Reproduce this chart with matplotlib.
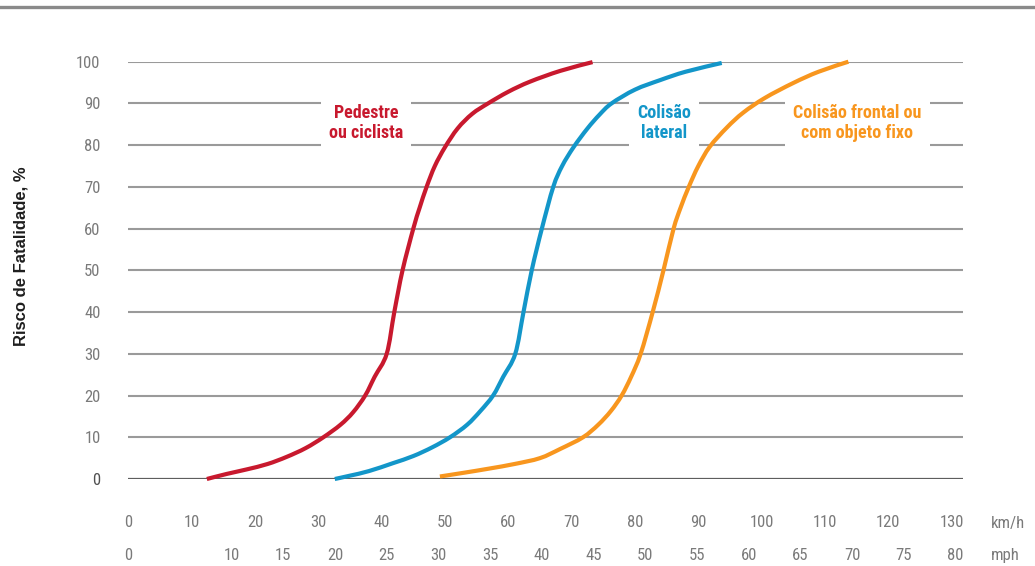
import matplotlib
matplotlib.use("Agg")
import matplotlib.pyplot as plt
from matplotlib import font_manager
from matplotlib.lines import Line2D
from matplotlib.path import Path
from matplotlib.patches import PathPatch
import matplotlib.transforms as mtransforms

# --- data (speed in km/h, fatality risk in %) ---
ped_kmh = [12.4, 15.5, 18.7, 22.0, 25.0, 28.0, 30.8, 33.5, 35.5, 37.4, 38.9,
           40.8, 42.0, 43.3, 45.0, 46.0, 47.1, 48.4, 50.0, 52.0, 54.3, 56.8, 60.0,
           63.4, 68.2, 73.3]
ped_risk = [0.0, 1.2, 2.3, 3.6, 5.3, 7.4, 10.0, 13.0, 16.0, 20.0, 24.5,
            30.0, 40.0, 50.0, 60.0, 65.0, 70.0, 75.0, 79.5, 84.0, 87.5, 90.0, 92.8,
            95.2, 97.8, 99.9]

lat_kmh = [32.6, 35.0, 38.0, 41.8, 45.0, 48.0, 50.8, 53.5, 55.6, 57.6, 59.2,
           61.1, 62.4, 63.7, 65.3, 67.1, 68.5, 70.3, 72.5, 74.4, 76.3, 80.0, 84.0,
           88.0, 93.7]
lat_risk = [0.0, 0.8, 1.9, 3.8, 5.5, 7.6, 10.0, 13.0, 16.3, 20.0, 24.5,
            30.0, 40.0, 50.0, 60.0, 70.0, 75.0, 79.5, 84.0, 87.3, 90.0, 93.3, 95.6,
            97.6, 99.7]

fro_kmh = [49.2, 53.0, 57.0, 61.0, 65.0, 68.2, 71.8, 74.2, 76.2, 77.9, 79.4,
           80.9, 82.8, 84.5, 86.1, 87.2, 88.5, 90.0, 91.8, 94.5, 97.1, 100.5, 105.0,
           109.0, 113.7]
fro_risk = [0.6, 1.5, 2.5, 3.6, 5.0, 7.2, 10.0, 13.0, 16.3, 20.0, 24.5,
            30.0, 40.0, 50.0, 60.0, 65.0, 70.0, 75.0, 79.6, 84.2, 87.8, 91.3, 94.9,
            97.6, 100.0]

y_ticks = [0, 10, 20, 30, 40, 50, 60, 70, 80, 90, 100]
kmh_ticks = [0, 10, 20, 30, 40, 50, 60, 70, 80, 90, 100, 110, 120, 130]
mph_ticks = [0, 10, 15, 20, 25, 30, 35, 40, 45, 50, 55, 60, 65, 70, 75, 80]
KMH_PER_MPH = 1.633  # spacing used by the original graphic

labels = ["Pedestre\nou ciclista", "Colisão\nlateral", "Colisão frontal ou\ncom objeto fixo"]
label_x = [37.5, 84.6, 115.1]
label_y = [85.3, 85.3, 85.3]
colors = ["#c8192e", "#1396c9", "#f8961e"]

# pick a narrow face if one is installed
installed = {f.name for f in font_manager.fontManager.ttflist}
COND = ["DejaVu Sans"]
STRETCH = "normal"
for name in ["Roboto Condensed", "Liberation Sans Narrow", "Open Sans Condensed", "Roboto"]:
    if name in installed:
        COND = [name, "DejaVu Sans"]
        break
if COND[0] == "Roboto":
    if any(f.name == "Roboto" and f.stretch in ("condensed", "semi-condensed")
           for f in font_manager.fontManager.ttflist):
        STRETCH = "condensed"


def smooth_path(xs, ys):
    # cubic bezier segments through the points (catmull-rom tangents)
    pts = list(zip(xs, ys))
    verts = [pts[0]]
    codes = [Path.MOVETO]
    n = len(pts)
    for i in range(n - 1):
        p0 = pts[i - 1] if i > 0 else pts[i]
        p1, p2 = pts[i], pts[i + 1]
        p3 = pts[i + 2] if i + 2 < n else pts[i + 1]
        c1 = (p1[0] + (p2[0] - p0[0]) / 6, p1[1] + (p2[1] - p0[1]) / 6)
        c2 = (p2[0] - (p3[0] - p1[0]) / 6, p2[1] - (p3[1] - p1[1]) / 6)
        verts += [c1, c2, p2]
        codes += [Path.CURVE4] * 3
    return Path(verts, codes)


W, H = 1035, 566
fig = plt.figure(figsize=(W / 100, H / 100), dpi=100)

x_left, x_right = 128.3, 962.7
y_top, y_bot = 61.7, 479.0
ax = fig.add_axes([x_left / W, (H - y_bot) / H, (x_right - x_left) / W, (y_bot - y_top) / H])
xmax = 131.75
ax.set_xlim(0, xmax)
ax.set_ylim(0, 100)
for s in ax.spines.values():
    s.set_visible(False)

# gridlines
ax.hlines(y_ticks[1:], 0, xmax, color="#9a9a9a", linewidth=1.5, zorder=1)
ax.hlines([0], 0, xmax, color="#5e5e5e", linewidth=1.6, zorder=1)

# curves
for xs, ys, c in [(ped_kmh, ped_risk, colors[0]),
                  (lat_kmh, lat_risk, colors[1]),
                  (fro_kmh, fro_risk, colors[2])]:
    ax.add_patch(PathPatch(smooth_path(xs, ys), facecolor="none", edgecolor=c,
                           linewidth=3.0, capstyle="butt", joinstyle="round",
                           clip_on=False, zorder=3))

# curve labels with white boxes that break the gridlines
for txt, x, y, c in zip(labels, label_x, label_y, colors):
    ax.text(x, y, txt, color=c, ha="center", va="center", fontsize=13,
            fontweight="bold", family=COND, fontstretch=STRETCH, linespacing=1.15,
            zorder=2,
            bbox=dict(boxstyle="square,pad=0.45", facecolor="white", edgecolor="none"))

TICK_COLOR = "#7a7a7a"
TICK_SIZE = 12

# y ticks
ax.set_yticks(y_ticks)
ax.set_yticklabels([str(v) for v in y_ticks])
ax.tick_params(axis="y", length=0, pad=20, labelsize=TICK_SIZE, labelcolor=TICK_COLOR)
for lab in ax.get_yticklabels():
    lab.set_family(COND)
    lab.set_fontstretch(STRETCH)
ax.get_yticklabels()[0].set_color("#505050")

# km/h ticks
ax.set_xticks(kmh_ticks)
ax.set_xticklabels([str(v) for v in kmh_ticks])
ax.tick_params(axis="x", length=0, pad=26, labelsize=TICK_SIZE, labelcolor=TICK_COLOR)
for lab in ax.get_xticklabels():
    lab.set_family(COND)
    lab.set_fontstretch(STRETCH)

# mph ticks on a secondary axis below
sec = ax.secondary_xaxis(-0.078, functions=(lambda k: k / KMH_PER_MPH,
                                            lambda m: m * KMH_PER_MPH))
sec.set_xticks(mph_ticks)
sec.set_xticklabels([str(v) for v in mph_ticks])
sec.tick_params(axis="x", length=0, pad=26, labelsize=TICK_SIZE, labelcolor=TICK_COLOR)
sec.spines["bottom"].set_visible(False)
for lab in sec.get_xticklabels():
    lab.set_family(COND)
    lab.set_fontstretch(STRETCH)

# unit labels
trans = mtransforms.blended_transform_factory(ax.transData, fig.transFigure)
ax.text(136.2, 1 - 523.3 / H, "km/h", transform=trans, ha="left", va="center",
        fontsize=TICK_SIZE, color=TICK_COLOR, family=COND, fontstretch=STRETCH,
        clip_on=False)
ax.text(136.2, 1 - 555.8 / H, "mph", transform=trans, ha="left", va="center",
        fontsize=TICK_SIZE, color=TICK_COLOR, family=COND, fontstretch=STRETCH,
        clip_on=False)

# y axis title
fig.text(21 / W, 1 - 256 / H, "Risco de Fatalidade, %", rotation=90, ha="center",
         va="center", fontsize=12, fontweight="bold", color="#1e1e1e",
         family=["Liberation Sans", "DejaVu Sans"])

# top rule
fig.add_artist(Line2D([0, 1], [1 - 7.3 / H, 1 - 7.3 / H], transform=fig.transFigure,
                      color="#8a8a8a", linewidth=2.4))

fig.savefig("out.png", dpi=100)
